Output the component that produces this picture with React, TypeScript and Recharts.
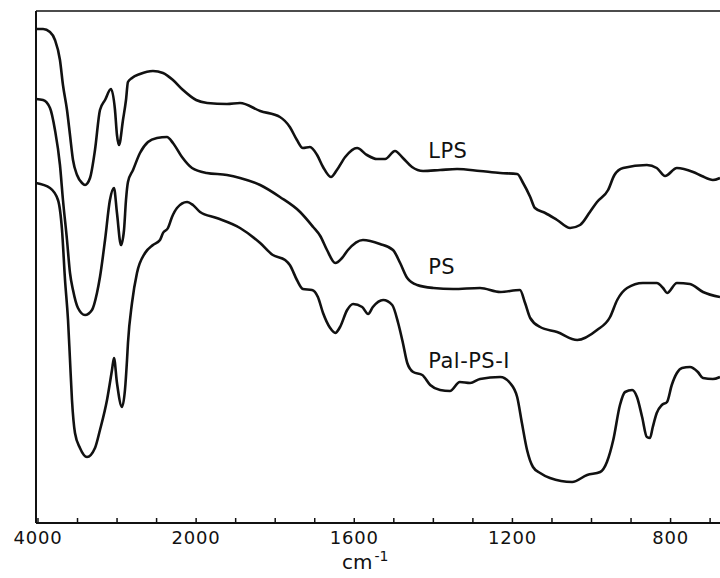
import React from 'react';
import { LineChart, Line, XAxis, YAxis, ReferenceLine, ReferenceDot } from 'recharts';

// Wavenumber ticks (cm-1) and which of them carry a label
const tickWavenumbers = [4000, 3500, 3000, 2500, 2000, 1900, 1800, 1700, 1600, 1500, 1400, 1300, 1200, 1100, 1000, 900, 800, 700];
const labeledWavenumbers = [4000, 2000, 1600, 1200, 800];

// LPS spectrum: wavenumber (cm-1) and transmittance (arbitrary units, offset traces)
const lpsWn = [4025, 3936, 3848, 3785, 3722, 3684, 3633, 3595, 3557, 3506, 3443, 3405, 3342, 3279, 3216, 3152, 3077, 3026, 3001, 2975, 2925, 2887, 2862, 2811, 2710, 2546, 2419, 2293, 2166, 2000, 1972, 1922, 1889, 1838, 1788, 1763, 1745, 1730, 1712, 1694, 1679, 1659, 1644, 1623, 1593, 1568, 1543, 1522, 1497, 1477, 1454, 1426, 1383, 1340, 1282, 1231, 1188, 1173, 1155, 1143, 1117, 1087, 1054, 1029, 1004, 986, 958, 942, 920, 860, 835, 814, 784, 743, 721, 693, 675];
const lpsT = [494, 494, 491, 483, 463, 438, 413, 388, 363, 348, 340, 338, 345, 373, 413, 423, 434, 413, 388, 378, 403, 423, 441, 445, 449, 452, 450, 443, 433, 423, 420, 419, 420, 412, 406, 396, 383, 375, 376, 368, 356, 346, 353, 366, 375, 368, 364, 364, 372, 365, 356, 352, 353, 354, 352, 350, 349, 340, 326, 315, 310, 303, 295, 298, 311, 321, 333, 348, 355, 358, 355, 347, 355, 351, 347, 343, 345];

// PS spectrum
const psWn = [4025, 3936, 3848, 3785, 3722, 3684, 3633, 3595, 3557, 3494, 3405, 3317, 3254, 3216, 3152, 3090, 3039, 3001, 2950, 2912, 2887, 2862, 2798, 2710, 2609, 2495, 2369, 2293, 2179, 2052, 1973, 1922, 1889, 1838, 1788, 1737, 1704, 1686, 1669, 1648, 1631, 1616, 1578, 1535, 1502, 1484, 1466, 1441, 1400, 1350, 1282, 1231, 1181, 1168, 1155, 1130, 1087, 1036, 986, 953, 935, 910, 870, 835, 819, 809, 784, 751, 718, 675];
const psT = [424, 423, 415, 393, 358, 323, 283, 250, 233, 215, 208, 213, 230, 246, 283, 323, 335, 310, 278, 293, 323, 341, 353, 370, 381, 385, 386, 380, 366, 355, 350, 348, 345, 338, 326, 311, 296, 287, 273, 260, 265, 273, 283, 279, 273, 260, 245, 238, 235, 234, 235, 231, 233, 220, 205, 196, 191, 183, 193, 206, 223, 235, 240, 240, 235, 230, 240, 239, 231, 226];

// Pal-PS-I spectrum
const palWn = [4025, 3848, 3747, 3696, 3658, 3620, 3595, 3570, 3532, 3469, 3380, 3279, 3216, 3127, 3064, 3039, 3001, 2938, 2900, 2874, 2862, 2811, 2748, 2646, 2546, 2457, 2419, 2356, 2305, 2242, 2115, 2040, 1990, 1948, 1889, 1838, 1806, 1775, 1763, 1745, 1730, 1707, 1692, 1679, 1661, 1648, 1636, 1618, 1603, 1580, 1565, 1553, 1527, 1504, 1489, 1477, 1466, 1451, 1428, 1408, 1383, 1358, 1333, 1307, 1282, 1231, 1206, 1188, 1176, 1163, 1148, 1130, 1105, 1049, 1011, 978, 961, 945, 928, 915, 897, 885, 872, 860, 852, 845, 835, 822, 809, 797, 784, 771, 751, 731, 718, 693, 675];
const palT = [340, 335, 323, 293, 243, 203, 163, 123, 90, 75, 66, 75, 93, 123, 153, 165, 140, 116, 133, 163, 180, 220, 250, 270, 278, 283, 290, 295, 306, 315, 321, 318, 311, 305, 295, 280, 268, 263, 258, 243, 234, 233, 226, 210, 195, 190, 196, 213, 219, 216, 209, 216, 223, 218, 200, 180, 160, 151, 148, 138, 133, 132, 141, 140, 144, 146, 140, 126, 100, 73, 56, 50, 45, 41, 48, 51, 61, 83, 118, 131, 133, 126, 106, 86, 85, 96, 110, 118, 121, 138, 150, 155, 156, 151, 145, 144, 146];

// Trace labels: [text, wavenumber, transmittance]
const traceLabels: [string, number, number][] = [
  ['LPS', 1413, 373],
  ['PS', 1413, 257],
  ['Pal-PS-I', 1413, 163],
];

// Compressed scale above 2000 cm-1 (5:1)
const toP = (wn: number) => (wn > 2000 ? 2000 + (wn - 2000) / 5 : wn);
const fromP = (p: number) => Math.round(p > 2000 ? 2000 + (p - 2000) * 5 : p);

const build = (wn: number[], t: number[]) => wn.map((w, i) => ({ p: toP(w), v: t[i] }));
const lpsData = build(lpsWn, lpsT);
const psData = build(psWn, psT);
const palData = build(palWn, palT);

const INK = '#111';
const FONT = '"DejaVu Sans", sans-serif';

const AxisTick = (props: any) => {
  const { x, y, payload } = props;
  const wn = fromP(payload.value);
  const show = labeledWavenumbers.includes(wn);
  return (
    <g>
      <line x1={x} x2={x} y1={y} y2={y - 5} stroke={INK} strokeWidth={1.5} />
      {show && (
        <text x={x} y={y + 21} textAnchor="middle" fontFamily={FONT} fontSize={18} letterSpacing={0.8} fill={INK}>
          {wn}
        </text>
      )}
    </g>
  );
};

export default function App() {
  return (
    <div style={{ position: 'absolute', left: 0, top: 0, width: 720, height: 578, background: '#fff' }}>
      <LineChart width={720} height={578} margin={{ top: 11, right: 0, left: 36, bottom: 0 }}>
        <XAxis
          dataKey="p"
          type="number"
          domain={[675, 2405]}
          reversed
          allowDataOverflow
          ticks={tickWavenumbers.map(toP)}
          tick={<AxisTick />}
          tickLine={false}
          tickSize={0}
          tickMargin={0}
          interval={0}
          axisLine={{ stroke: INK, strokeWidth: 2 }}
          height={55}
        />
        <YAxis dataKey="v" type="number" domain={[0, 512]} hide allowDataOverflow />
        <ReferenceLine x={2405} stroke={INK} strokeWidth={2} />
        <ReferenceLine y={512} stroke={INK} strokeWidth={1.5} />
        <Line data={lpsData} dataKey="v" type="monotone" stroke={INK} strokeWidth={2.6} dot={false} isAnimationActive={false} />
        <Line data={psData} dataKey="v" type="monotone" stroke={INK} strokeWidth={2.6} dot={false} isAnimationActive={false} />
        <Line data={palData} dataKey="v" type="monotone" stroke={INK} strokeWidth={2.6} dot={false} isAnimationActive={false} />
        {traceLabels.map(([name, wn, t]) => (
          <ReferenceDot
            key={name}
            x={toP(wn)}
            y={t}
            r={0}
            ifOverflow="visible"
            shape={(s: any) => (
              <text x={s.cx} y={s.cy + 8} fontFamily={FONT} fontSize={21} letterSpacing={0.5} fill={INK}>
                {name}
              </text>
            )}
          />
        ))}
      </LineChart>
      <div
        style={{
          position: 'absolute',
          left: 342,
          top: 552,
          fontFamily: FONT,
          fontSize: 20,
          color: INK,
          lineHeight: '20px',
          whiteSpace: 'nowrap',
        }}
      >
        cm<span style={{ fontSize: 14, position: 'relative', top: -8, marginLeft: 2 }}>-1</span>
      </div>
    </div>
  );
}
